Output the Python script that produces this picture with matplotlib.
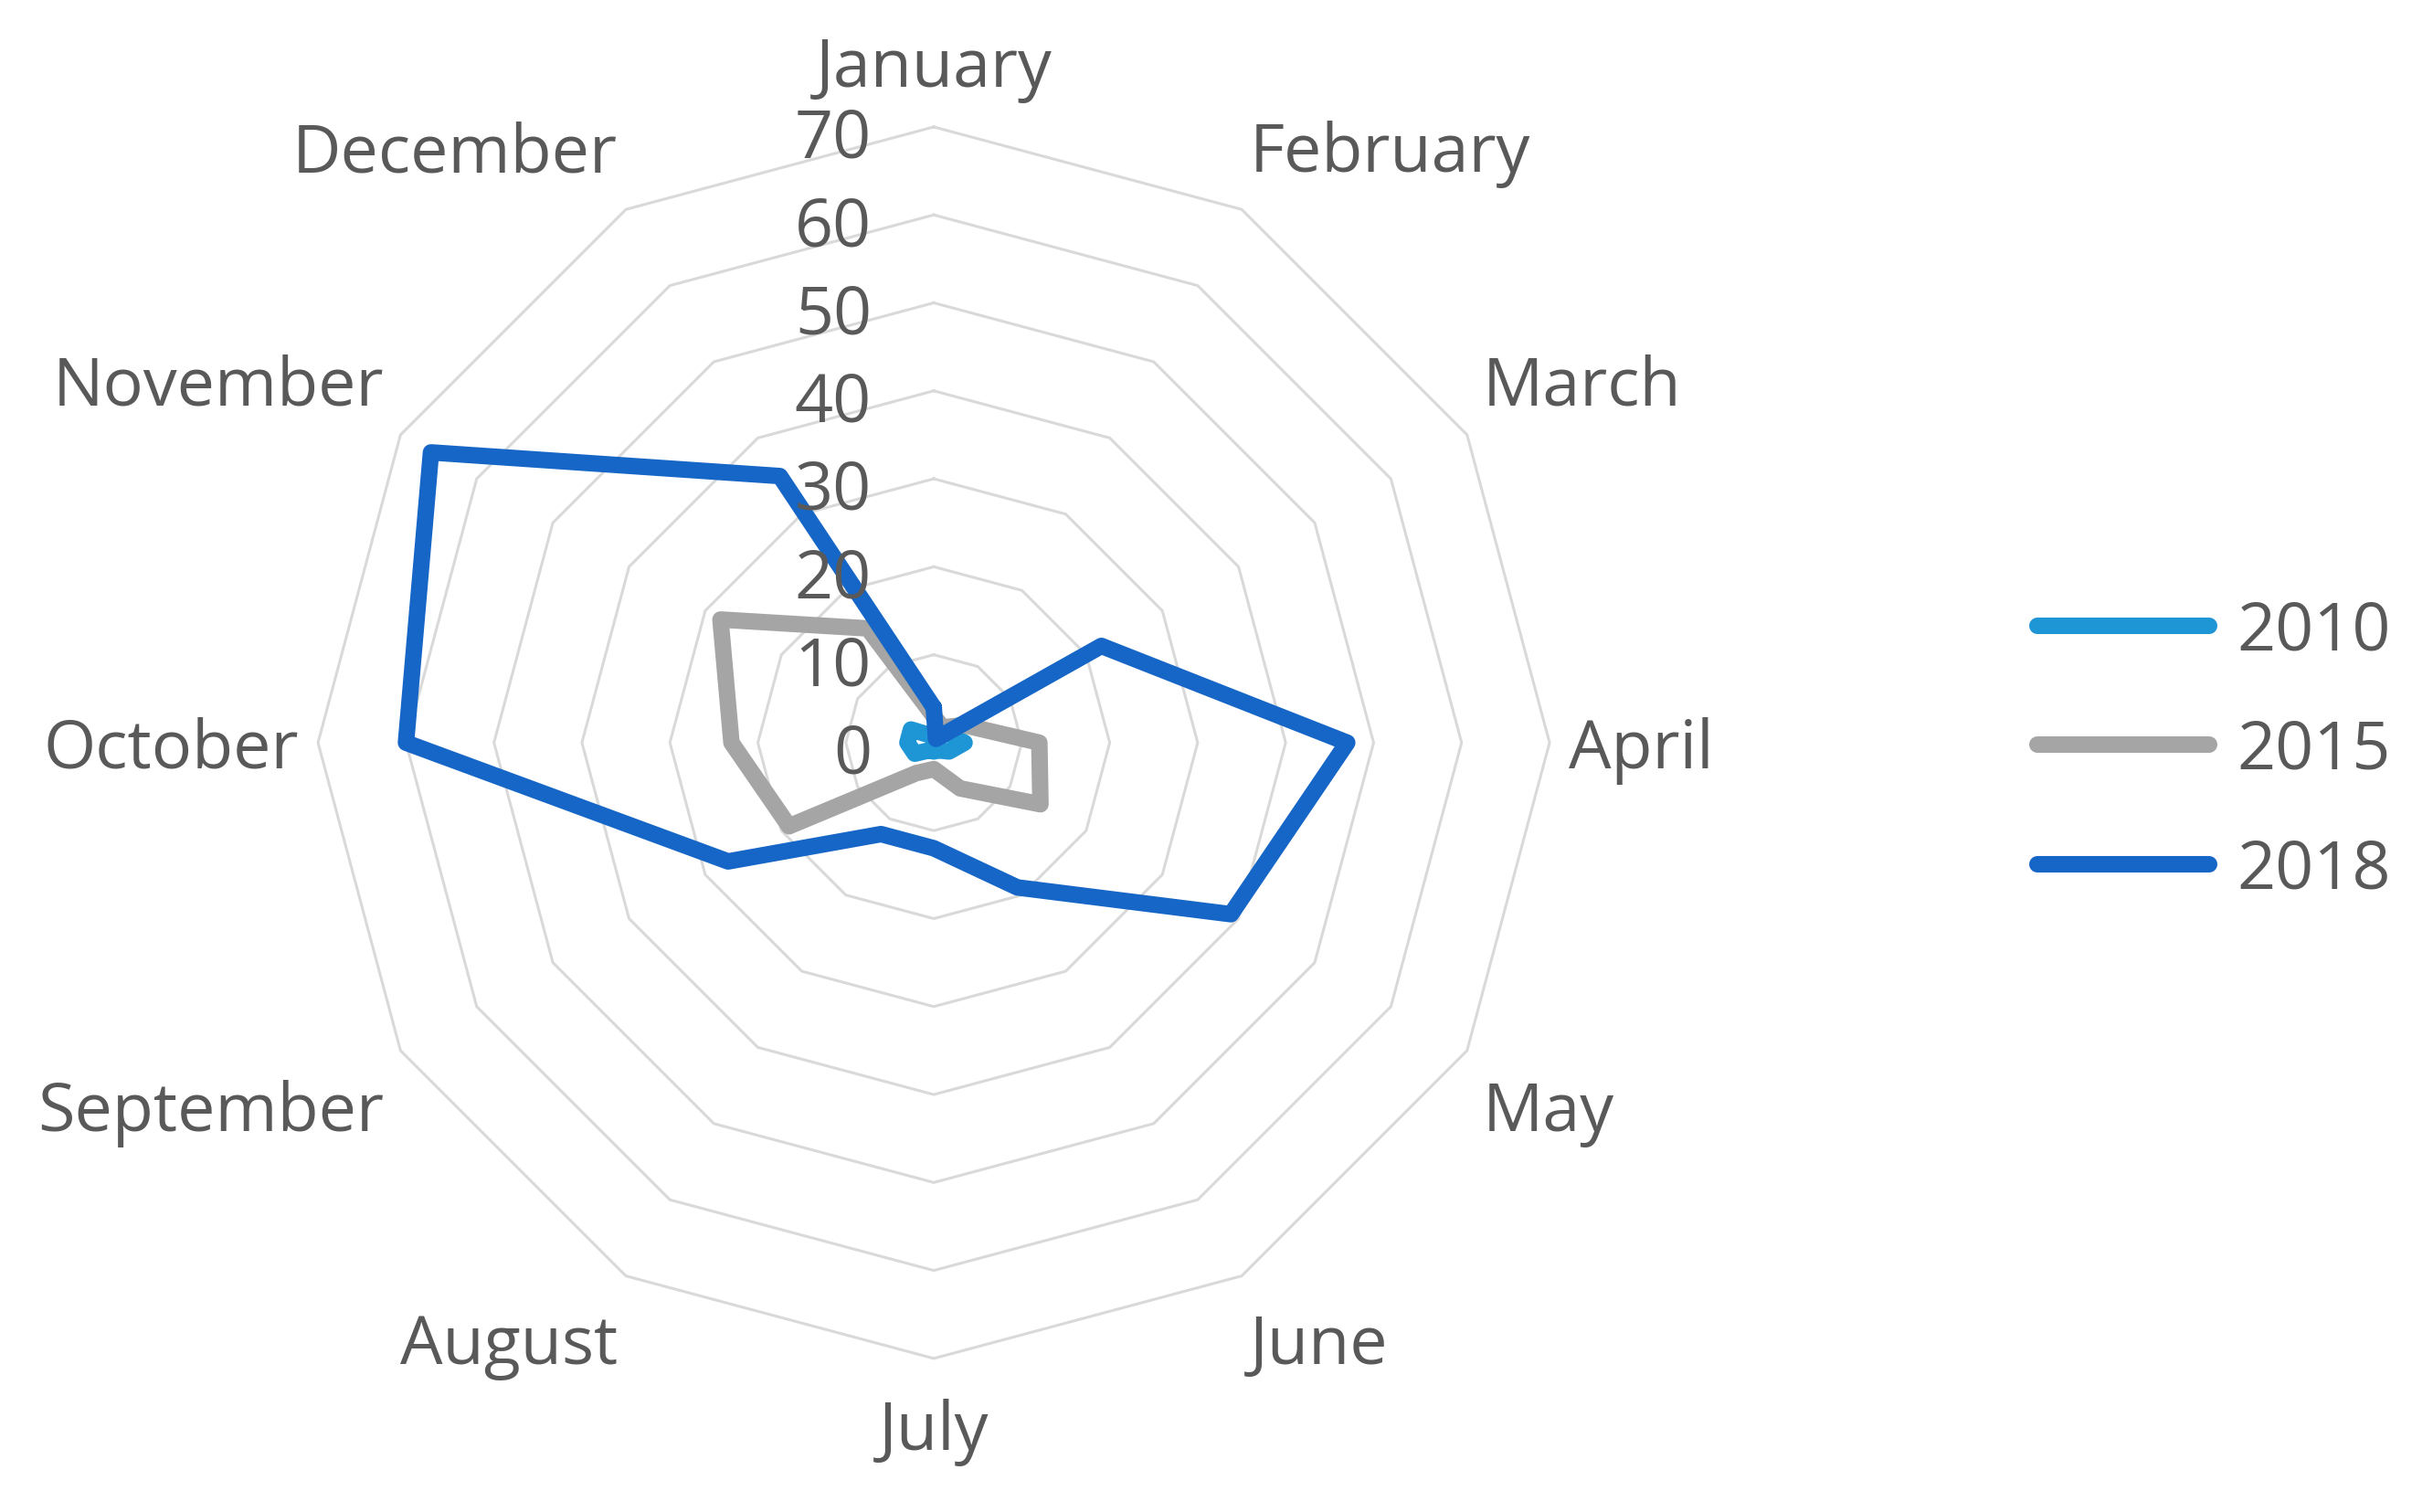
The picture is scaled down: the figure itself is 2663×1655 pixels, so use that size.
import numpy as np
import matplotlib
matplotlib.use("Agg")
import matplotlib.pyplot as plt

plt.rcParams['font.family'] = ['Open Sans', 'DejaVu Sans']

months = ["January", "February", "March", "April", "May", "June",
          "July", "August", "September", "October", "November", "December"]
years = ["2010", "2015", "2018"]
v2010 = [1, 1, 2, 3.5, 2, 1, 1, 1, 2.5, 3, 3, 1]
v2015 = [3, 2, 4, 12, 14, 6, 3, 4, 19, 23, 28, 15]
v2018 = [4, 0.5, 22, 47, 39, 19, 12, 12, 27, 60, 66, 35]
rings = [0, 10, 20, 30, 40, 50, 60, 70]

colors = ["#1E96D6", "#A5A5A5", "#1566C6"]
text_col = "#595959"
grid_col = "#D9D9D9"
fs = 53

fig = plt.figure(figsize=(26.63, 16.56), dpi=100)
ax = fig.add_axes([0.1307, 0.1015, 0.5062, 0.814], projection='polar')
ax.set_theta_zero_location('N')
ax.set_theta_direction(-1)
ax.set_xticks([])
ax.set_yticks([])
ax.grid(False)
ax.spines['polar'].set_visible(False)
ax.set_ylim(0, 70)

n = len(months)
theta = np.arange(n) * 2 * np.pi / n
theta_c = np.append(theta, theta[0])

# polygon rings (no spokes in the original)
for r in rings[1:]:
    ax.plot(theta_c, [r] * (n + 1), color=grid_col, lw=2.2, clip_on=False, zorder=1)

# series
for vals, lab, c in zip([v2010, v2015, v2018], years, colors):
    ax.plot(theta_c, vals + vals[:1], color=c, lw=13, label=lab,
            solid_joinstyle='round', solid_capstyle='round', zorder=3, clip_on=False)

# ring value labels along the January axis
for r in rings:
    ax.annotate(str(r), xy=(0, r), xytext=(-49, -10), textcoords='offset points',
                ha='right', va='center', fontsize=fs, color=text_col, zorder=5)

# month labels, Excel-like placement around the outer ring
for t, m in zip(theta, months):
    deg = round(np.degrees(t))
    if deg in (90, 270):
        s = 0
    elif deg < 90 or deg > 270:
        s = 1
    else:
        s = -1
    if deg in (0, 180):
        ha, dx = 'center', 0
    elif deg < 180:
        ha, dx = 'left', -2.5
    else:
        ha, dx = 'right', 2
    dy = (48 * s - 8) * 0.72
    ax.annotate(m, xy=(t, 72.5), xytext=(dx, dy), textcoords='offset points',
                ha=ha, va='center', fontsize=fs, color=text_col, annotation_clip=False)

leg = ax.legend(loc='center left', bbox_to_anchor=(2230 / 2663, 1 - 823 / 1656),
                bbox_transform=fig.transFigure, frameon=False, fontsize=fs,
                borderpad=0, borderaxespad=0, handlelength=2.55, handletextpad=0.41,
                labelspacing=0.77)
for t in leg.get_texts():
    t.set_color(text_col)

fig.savefig("out.png", dpi=100)
